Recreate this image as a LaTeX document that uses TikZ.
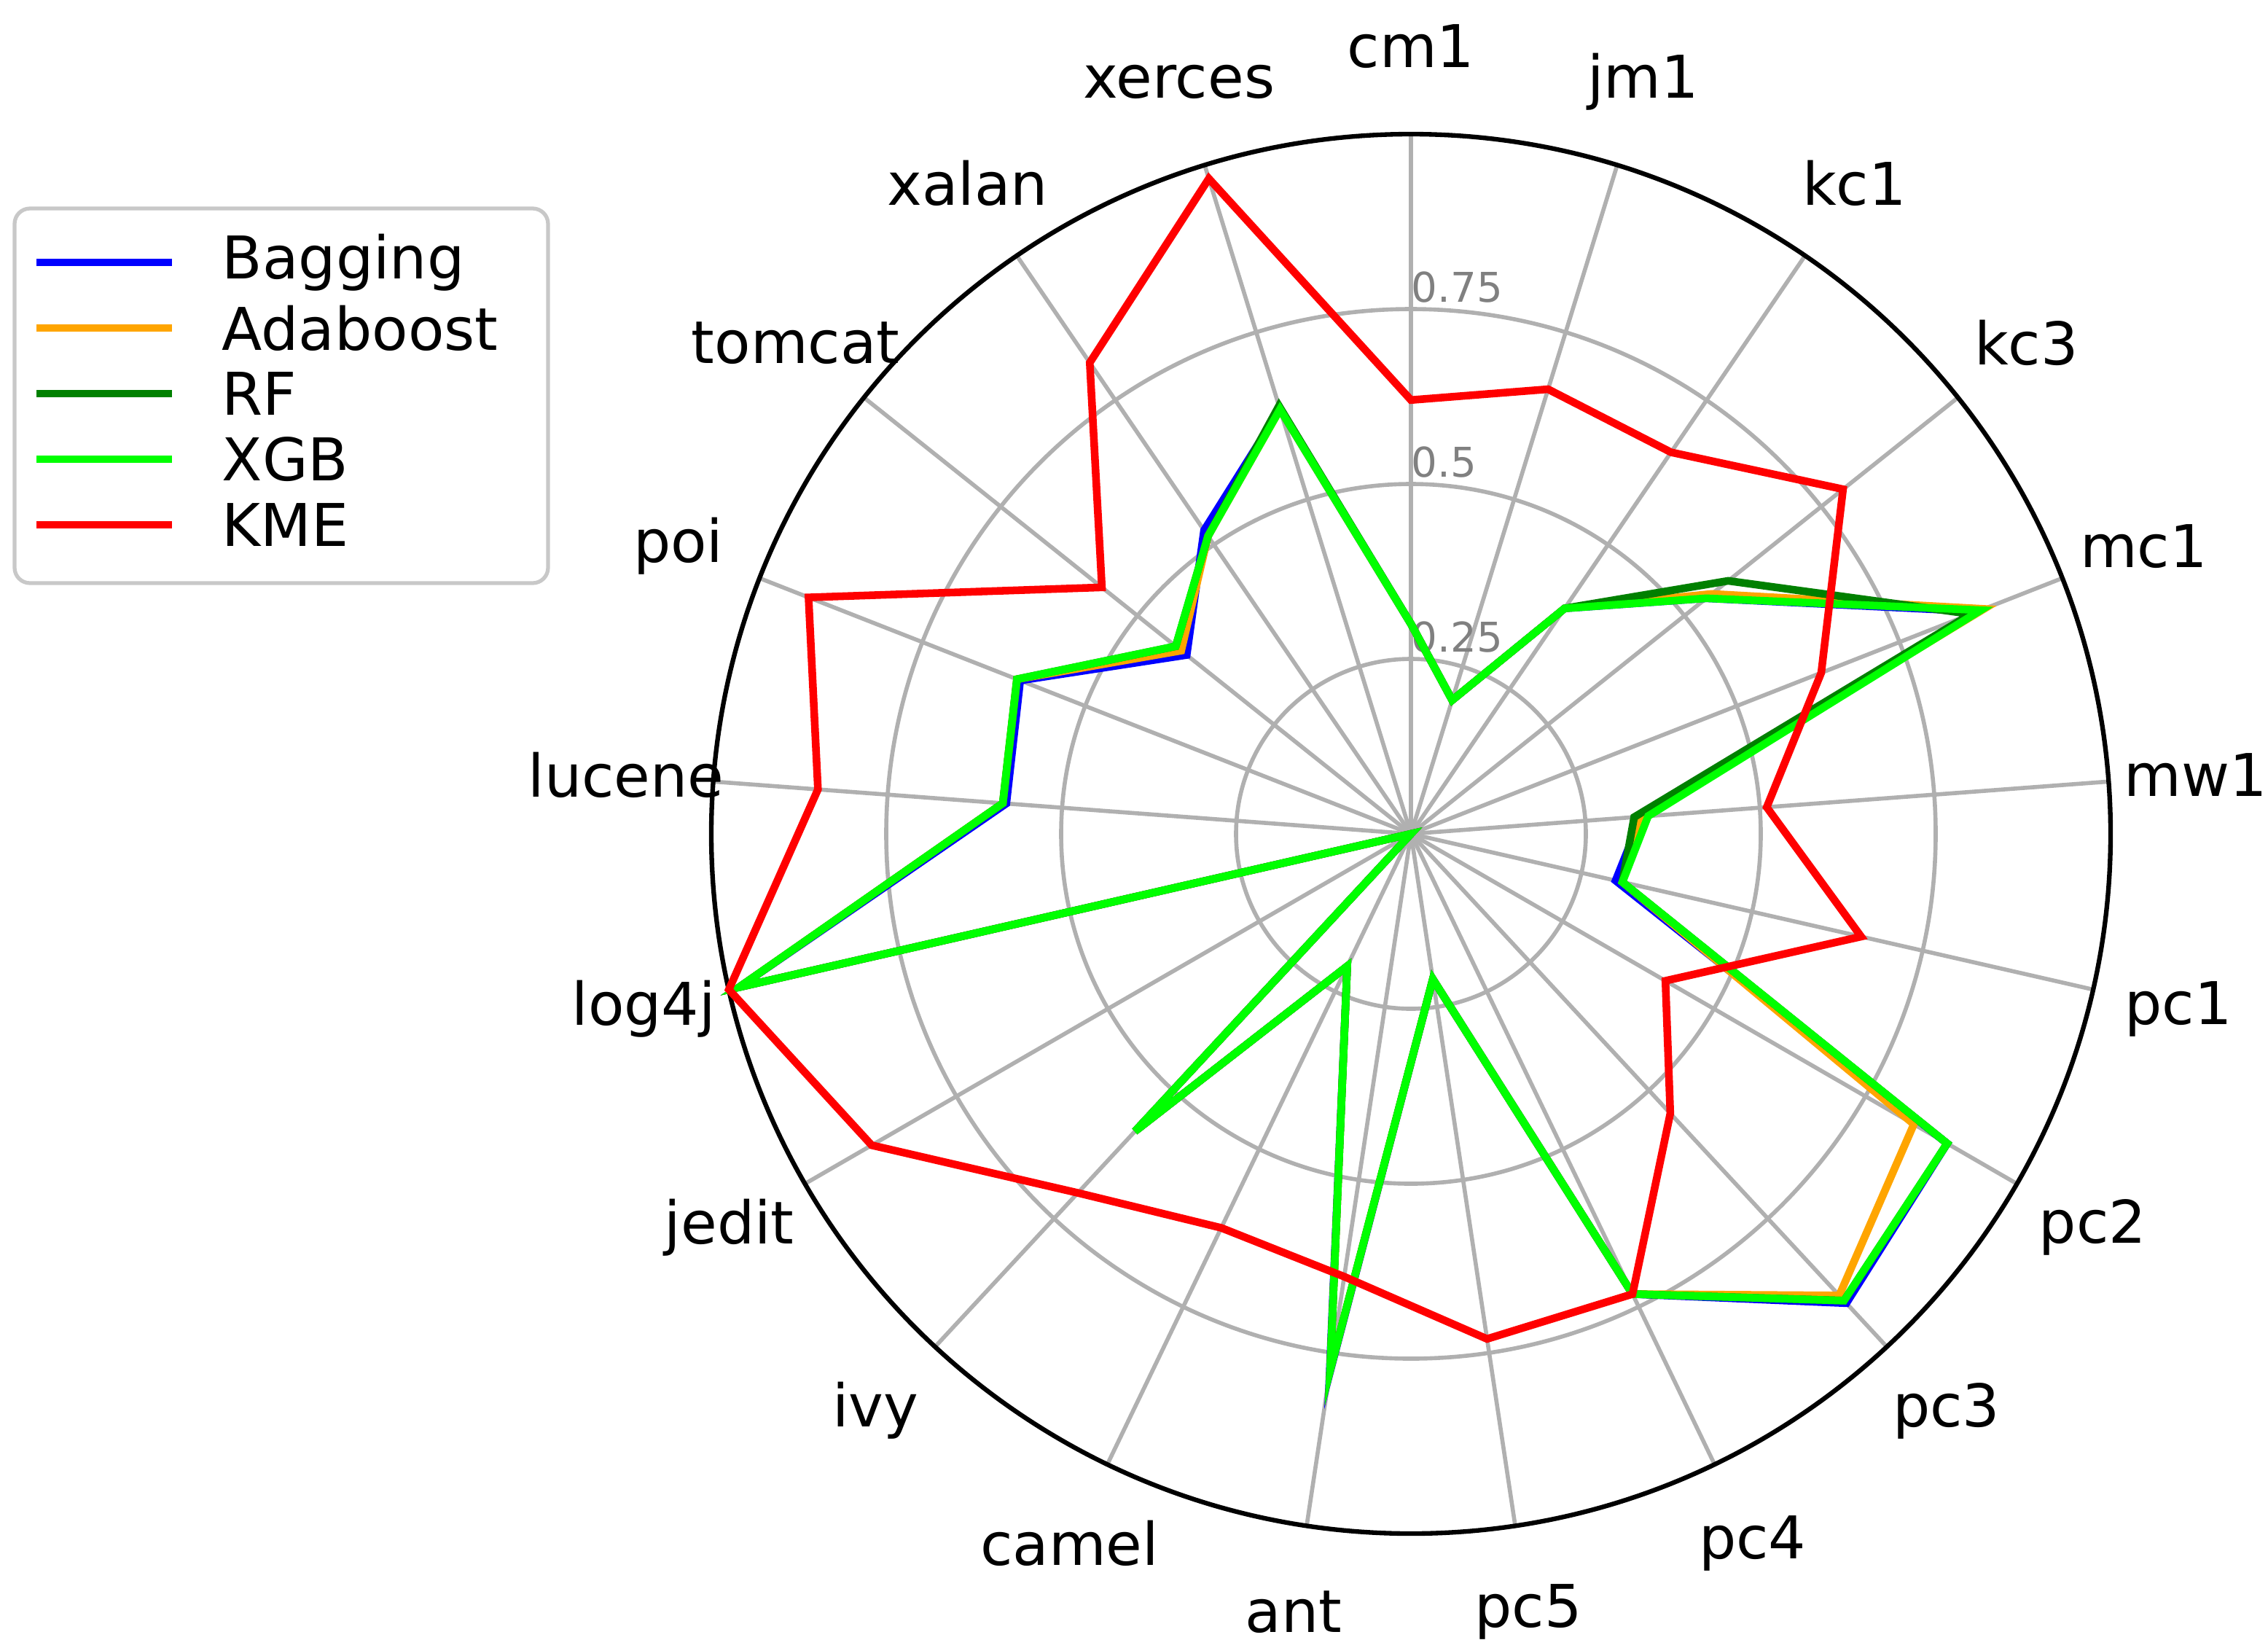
\documentclass[tikz,border=0pt]{standalone}
\usepackage{fontspec}
\setmainfont{DejaVu Sans}
\definecolor{orng}{RGB}{255,165,0}
\definecolor{dgreen}{RGB}{0,128,0}
\definecolor{lime}{RGB}{0,255,0}
\definecolor{gridgray}{RGB}{176,176,176}
\definecolor{ticgray}{RGB}{128,128,128}
\tikzset{ser/.style={line width=3pt},
 lab/.style={font=\fontsize{23}{27}\selectfont,inner sep=0pt},
 entry/.style={font=\fontsize{23}{27}\selectfont,anchor=west,inner sep=0pt}}
\newcommand\myseries[3]{\draw[ser,#1] (90:{#2*480}) \foreach \v [count=\i from 1] in {#3} { -- ({90-\i*360/21}:{\v*480}) } -- cycle;}
\begin{document}
\begin{tikzpicture}[x=0.02cm,y=-0.02cm]
\useasboundingbox (0,0) rectangle (1556,1130);
\begin{scope}[shift={(968,572)},y=0.02cm]
\foreach \r in {120,240,360} \draw[gridgray,line width=1.6pt] (0,0) circle (\r);
\foreach \i in {0,...,20} \draw[gridgray,line width=1.6pt] (0,0) -- ({90-\i*360/21}:480);
\draw[black,line width=1.8pt] (0,0) circle (480);
\node[anchor=west,text=ticgray,font=\fontsize{16}{18}\selectfont,inner sep=0pt] at (0,135) {0.25};
\node[anchor=west,text=ticgray,font=\fontsize{16}{18}\selectfont,inner sep=0pt] at (0,255) {0.5};
\node[anchor=west,text=ticgray,font=\fontsize{16}{18}\selectfont,inner sep=0pt] at (0,375) {0.75};
\myseries{blue}{0.30}{0.20,0.39,0.54,0.87,0.33,0.30,0.885,0.915,0.73,0.21,0.78,0.21,0.58,0,0.985,0.58,0.60,0.41,0.525,0.635}
\myseries{orng}{0.30}{0.20,0.39,0.55,0.88,0.33,0.31,0.83,0.90,0.73,0.21,0.775,0.21,0.58,0,0.985,0.585,0.605,0.42,0.515,0.635}
\myseries{dgreen}{0.30}{0.20,0.39,0.58,0.86,0.32,0.31,0.885,0.91,0.73,0.21,0.775,0.21,0.58,0,0.985,0.585,0.605,0.43,0.515,0.64}
\myseries{lime}{0.30}{0.20,0.39,0.54,0.875,0.34,0.31,0.885,0.91,0.73,0.21,0.775,0.21,0.58,0,0.985,0.585,0.605,0.43,0.515,0.635}
\myseries{red}{0.62}{0.665,0.66,0.79,0.63,0.51,0.66,0.42,0.545,0.73,0.73,0.64,0.625,0.70,0.89,1.0,0.85,0.925,0.565,0.815,0.98}
\foreach \t [count=\i from 0] in {cm1,jm1,kc1,kc3,mc1,mw1,pc1,pc2,pc3,pc4,pc5,ant,camel,ivy,jedit,log4j,lucene,poi,tomcat,xalan,xerces}
  \node[lab] at ({90-\i*360/21}:540) {\t};
\end{scope}
\draw[gridgray!70,line width=1.5pt,rounded corners=6pt,fill=white] (10,143) rectangle (376,400);
\foreach \c/\t [count=\k from 0] in {blue/Bagging,orng/Adaboost,dgreen/RF,lime/XGB,red/KME}{
  \draw[\c,line width=3pt] (25,{180+\k*45}) -- (118,{180+\k*45});
  \node[entry] at (152,{180+\k*45}) {\t};
}
\end{tikzpicture}
\end{document}
